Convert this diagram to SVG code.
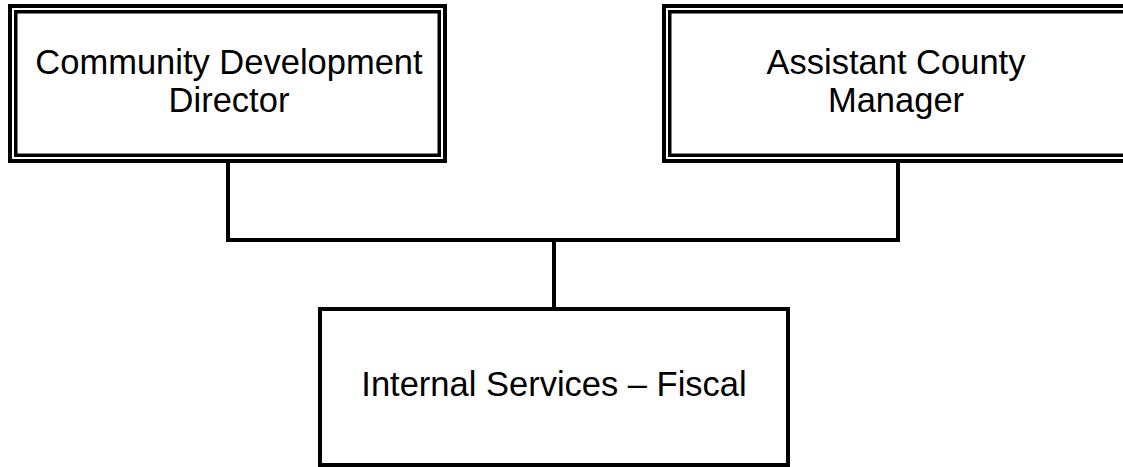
<svg xmlns="http://www.w3.org/2000/svg" width="1123" height="467" viewBox="0 0 1123 467">
<style>
.o{fill:none;stroke:#000;stroke-width:4}
.i{fill:none;stroke:#000;stroke-width:3.5}
.b{fill:#fff;stroke:#000;stroke-width:4}
.c{fill:none;stroke:#000;stroke-width:4;stroke-linecap:square}
text{font-family:"Liberation Sans",Arial,sans-serif;font-size:34.5px;fill:#000;text-anchor:middle}
</style>
<rect width="1123" height="467" fill="#fff"/>
<g id="connectors">
<polyline class="c" points="228,163 228,240 898,240 898,163"/>
<line class="c" x1="554" y1="240" x2="554" y2="307"/>
</g>
<g id="node-cdd">
<rect class="o" x="10" y="6" width="435" height="155"/>
<rect class="i" x="15.75" y="11.75" width="423.5" height="143.5"/>
<text x="229" y="74">Community Development</text>
<text x="229" y="112">Director</text>
</g>
<g id="node-acm">
<rect class="o" x="664" y="6" width="470" height="155"/>
<rect class="i" x="669.75" y="11.75" width="460" height="143.5"/>
<text x="896" y="74">Assistant County</text>
<text x="896" y="112">Manager</text>
</g>
<g id="node-isf">
<rect class="b" x="320" y="309" width="468" height="156"/>
<text x="554" y="396">Internal Services – Fiscal</text>
</g>
</svg>
